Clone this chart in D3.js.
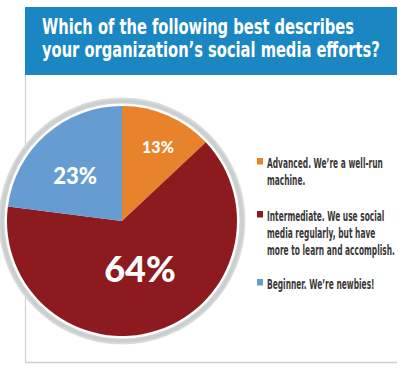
<!DOCTYPE html>
<html>
<head>
<meta charset="utf-8">
<script src="https://cdn.jsdelivr.net/npm/d3@7"></script>
<style>
  body { margin: 0; background: #fff; }
  svg { display: block; }
</style>
</head>
<body>
<div id="chart"></div>
<script>
// Data
const categories = ["Advanced", "Intermediate", "Beginner"];
const shares = [13, 64, 23];
const sliceLabels = ["13%", "64%", "23%"];
const legendLines = [
  ["Advanced. We\u2019re a well-run", "machine."],
  ["Intermediate. We use social", "media regularly, but have", "more to learn and accomplish."],
  ["Beginner. We\u2019re newbies!"]
];
const titleLines = ["Which of the following best describes", "your organization\u2019s social media efforts?"];
const colors = ["#e8832b", "#8d1a1f", "#659dd3"];

const W = 412, H = 372;
const svg = d3.select("#chart").append("svg")
  .attr("width", W)
  .attr("height", H);

// frame
svg.append("rect")
  .attr("x", 25).attr("y", 7)
  .attr("width", 372).attr("height", 68)
  .attr("fill", "#1b87c2");
svg.append("line")
  .attr("x1", 25.5).attr("x2", 25.5).attr("y1", 75).attr("y2", 363)
  .attr("stroke", "#cfcfcf").attr("stroke-width", 1.2);
svg.append("line")
  .attr("x1", 25).attr("x2", 397).attr("y1", 362.5).attr("y2", 362.5)
  .attr("stroke", "#cfcfcf").attr("stroke-width", 1.5);

// squeeze a text horizontally (condensed look) to a given width
function squeeze(sel, x, width) {
  const len = sel.node().getComputedTextLength();
  sel.attr("x", 0).attr("transform", `translate(${x},0) scale(${width / len},1)`);
}

// title
const titleWidths = [312, 338];
svg.selectAll(".title")
  .data(titleLines)
  .enter().append("text")
  .attr("class", "title")
  .attr("y", (d, i) => 34 + i * 23)
  .style("font-family", "'DejaVu Sans Condensed', 'Liberation Sans Narrow', sans-serif")
  .style("font-weight", "bold")
  .style("font-size", "22px")
  .attr("fill", "#fff")
  .text(d => d)
  .each(function(d, i) { squeeze(d3.select(this), 42, titleWidths[i]); });

// pie
const cx = 122, cy = 221, r = 115;
const g = svg.append("g").attr("transform", `translate(${cx},${cy})`);

const grad = svg.append("defs").append("radialGradient")
  .attr("id", "ring")
  .attr("gradientUnits", "userSpaceOnUse")
  .attr("cx", 0).attr("cy", 0).attr("r", 124);
grad.append("stop").attr("offset", "0.93").attr("stop-color", "#d9dcdc");
grad.append("stop").attr("offset", "0.97").attr("stop-color", "#c9cccc");
grad.append("stop").attr("offset", "1").attr("stop-color", "#e4e6e6");

g.append("circle").attr("r", 123.5).attr("fill", "url(#ring)");
g.append("circle").attr("r", 117.5).attr("fill", "#fff");

const pie = d3.pie().sort(null).value(d => d);
const arc = d3.arc().innerRadius(0).outerRadius(r);
const arcs = pie(shares);

g.selectAll(".slice")
  .data(arcs)
  .enter().append("path")
  .attr("class", "slice")
  .attr("d", arc)
  .attr("fill", (d, i) => colors[i]);

// slice labels
const labelPos = [[36, -75], [18, 47], [-47, -46]];
const labelSize = [16, 36, 22];
g.selectAll(".plabel")
  .data(arcs)
  .enter().append("text")
  .attr("class", "plabel")
  .attr("x", (d, i) => labelPos[i][0])
  .attr("y", (d, i) => labelPos[i][1])
  .attr("text-anchor", "middle")
  .attr("dominant-baseline", "central")
  .style("font-family", "Lato, 'Open Sans', sans-serif")
  .style("font-weight", 900)
  .style("font-size", (d, i) => labelSize[i] + "px")
  .attr("fill", "#fff")
  .text((d, i) => sliceLabels[i]);

// legend
const legendY = [168, 221, 289];
const legend = svg.selectAll(".legend")
  .data(categories)
  .enter().append("g")
  .attr("class", "legend")
  .attr("transform", (d, i) => `translate(257,${legendY[i]})`);

legend.append("rect")
  .attr("x", 0).attr("y", -10)
  .attr("width", 6).attr("height", 6.5)
  .attr("fill", (d, i) => colors[i]);

legend.each(function(d, i) {
  const el = d3.select(this);
  legendLines[i].forEach((line, j) => {
    el.append("text")
      .attr("class", "ltext")
      .attr("y", j * 17)
      .style("font-family", "'DejaVu Sans Condensed', 'Liberation Sans Narrow', sans-serif")
      .style("font-size", "14px")
      .style("font-weight", "600")
      .attr("fill", "#383838")
      .text(line);
  });
});
// one shared squeeze factor so the longest line ends at the frame
const longest = d3.max(svg.selectAll(".ltext").nodes(), n => n.getComputedTextLength());
const factor = 128 / longest;
svg.selectAll(".ltext")
  .attr("x", 0)
  .attr("transform", `translate(10,0) scale(${factor},1)`);
</script>
</body>
</html>
